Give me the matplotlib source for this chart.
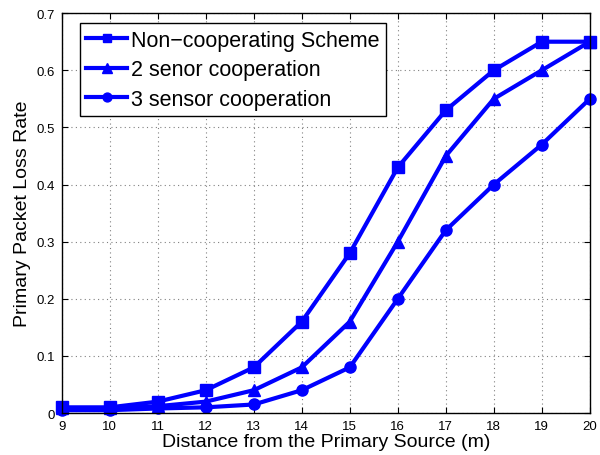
import matplotlib
matplotlib.use("Agg")
import matplotlib.pyplot as plt

distance = [9, 10, 11, 12, 13, 14, 15, 16, 17, 18, 19, 20]
non_coop = [0.01, 0.01, 0.02, 0.04, 0.08, 0.16, 0.28, 0.43, 0.53, 0.60, 0.65, 0.65]
two_sensor = [0.008, 0.008, 0.012, 0.02, 0.04, 0.08, 0.16, 0.30, 0.45, 0.55, 0.60, 0.65]
three_sensor = [0.005, 0.005, 0.008, 0.01, 0.015, 0.04, 0.08, 0.20, 0.32, 0.40, 0.47, 0.55]
labels = ["Non\u2212cooperating Scheme", "2 senor cooperation", "3 sensor cooperation"]
yticks = [0, 0.1, 0.2, 0.3, 0.4, 0.5, 0.6, 0.7]
ytick_labels = ["0", "0.1", "0.2", "0.3", "0.4", "0.5", "0.6", "0.7"]

plt.rcParams['font.family'] = ['Liberation Sans', 'DejaVu Sans']

fig = plt.figure(figsize=(6, 4.56), dpi=100)
ax = fig.add_axes([0.103, 0.092, 0.880, 0.877])

ax.plot(distance, non_coop, color='blue', lw=3, marker='s', ms=8, label=labels[0], clip_on=False)
ax.plot(distance, two_sensor, color='blue', lw=3, marker='^', ms=9, label=labels[1], clip_on=False)
ax.plot(distance, three_sensor, color='blue', lw=3, marker='o', ms=8, label=labels[2], clip_on=False)

ax.set_xlim(9, 20)
ax.set_ylim(0, 0.7)
ax.set_xticks(distance)
ax.set_yticks(yticks)
ax.set_yticklabels(ytick_labels)
ax.tick_params(direction='in', labelsize=9.5, top=True, right=True, length=4, pad=5)
ax.grid(True, linestyle=(0, (1, 3)), color='gray', linewidth=0.8)
for s in ax.spines.values():
    s.set_linewidth(1)

ax.set_xlabel("Distance from the Primary Source (m)", fontsize=14, labelpad=1)
ax.set_ylabel("Primary Packet Loss Rate", fontsize=14, labelpad=4)

leg = ax.legend(loc='upper left', bbox_to_anchor=(0.034, 0.975), fontsize=15.5,
                fancybox=False, framealpha=1, edgecolor='black',
                handlelength=1.9, handletextpad=0.2, borderpad=0.3,
                labelspacing=0.4, borderaxespad=0, markerscale=0.8)
leg.get_frame().set_linewidth(1)

fig.savefig("out.png", dpi=100)
